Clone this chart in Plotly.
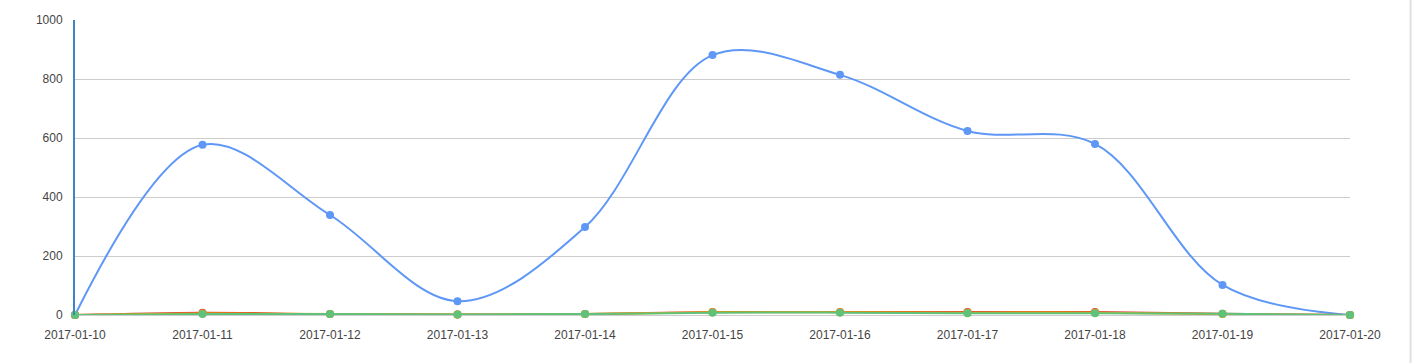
import plotly.graph_objects as go

dates = ["2017-01-10", "2017-01-11", "2017-01-12", "2017-01-13", "2017-01-14", "2017-01-15",
         "2017-01-16", "2017-01-17", "2017-01-18", "2017-01-19", "2017-01-20"]
blue_vals = [0, 577, 339, 47, 298, 881, 814, 624, 580, 102, 0]
red_vals = [0, 8, 3, 2, 3, 10, 10, 10, 10, 4, 0]
orange_vals = [0, 5, 3, 2, 3, 9, 9, 8, 8, 3, 0]
green_vals = [0, 3, 3, 2, 3, 8, 8, 6, 6, 4, 0]

series = [
    ("Blue", blue_vals, "#5e97f6"),
    ("Red", red_vals, "#db4437"),
    ("Orange", orange_vals, "#f2a600"),
    ("Green", green_vals, "#5fc27a"),
]

fig = go.Figure()
for name, vals, col in series:
    fig.add_trace(go.Scatter(
        x=dates, y=vals, name=name, mode="lines+markers",
        line=dict(color=col, width=2, shape="spline", smoothing=1.0),
        marker=dict(color=col, size=8),
        cliponaxis=False,
    ))

fig.update_layout(
    width=1413, height=363,
    margin=dict(l=75, r=63, t=20, b=48),
    paper_bgcolor="white", plot_bgcolor="white",
    showlegend=False,
    font=dict(family="Liberation Sans, Arial, sans-serif", size=12, color="#444444"),
    xaxis=dict(type="category", range=[0, 10], showgrid=False, zeroline=False,
               showline=False, ticks="outside", ticklen=9, tickcolor="rgba(0,0,0,0)",
               tickfont=dict(size=12, color="#444444")),
    yaxis=dict(range=[0, 1000], dtick=200, showgrid=True, gridcolor="#cccccc", gridwidth=1,
               zeroline=True, zerolinecolor="#cccccc", zerolinewidth=1,
               showline=True, linecolor="#3d85c6", linewidth=2,
               ticks="outside", ticklen=8, tickcolor="rgba(0,0,0,0)",
               tickfont=dict(size=12, color="#444444")),
    shapes=[dict(type="line", xref="paper", yref="paper", x0=1.0475, x1=1.0475, y0=-0.2, y1=1.1,
                 line=dict(color="#e0e0e0", width=2))],
)

fig.write_html("out.html")
